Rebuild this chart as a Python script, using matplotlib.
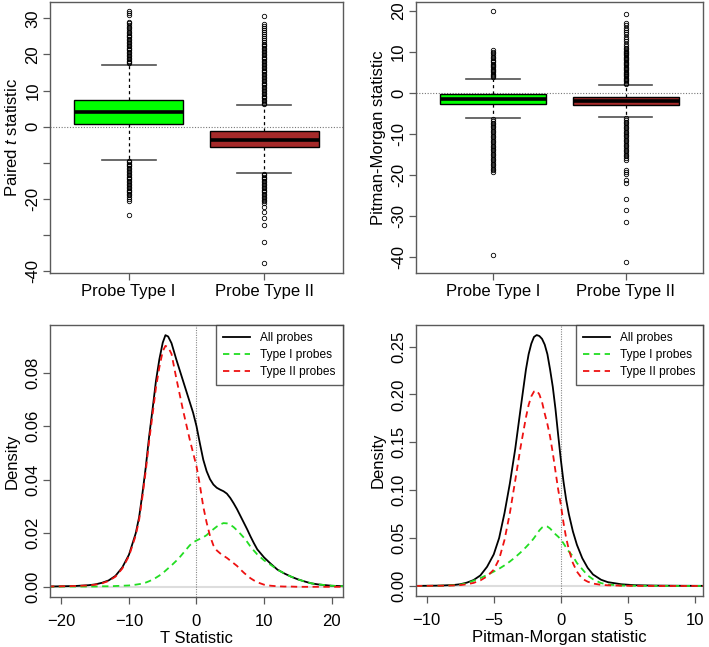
import matplotlib
matplotlib.use("Agg")
import matplotlib.pyplot as plt

plt.rcParams['font.family'] = ['Liberation Sans', 'DejaVu Sans']
plt.rcParams['mathtext.fontset'] = 'custom'
plt.rcParams['mathtext.rm'] = 'Liberation Sans'
plt.rcParams['mathtext.it'] = 'Liberation Sans:italic'

groups = ['Probe Type I', 'Probe Type II']
box_colors = ['#00ff00', '#a52a2a']

# --- paired t statistic boxplots (top left) ---
t_q1 = [0.75, -5.7]
t_med = [4.1, -3.7]
t_q3 = [7.4, -1.2]
t_whislo = [-9.1, -12.7]
t_whishi = [17.2, 5.9]
t_fliers_I = [17.5, 17.9, 18.3, 18.7, 19.1, 19.5, 19.9, 20.3, 20.7, 21.1, 21.5, 21.9,
              22.3, 22.7, 23.1, 23.5, 23.9, 24.3, 24.7, 25.1, 25.5, 25.9, 26.3, 26.7,
              27.2, 27.6, 28.1, 28.6, 29.1, 30.9, 31.4, 31.9,
              -9.4, -9.8, -10.2, -10.6, -11.0, -11.4, -11.8, -12.2, -12.6, -13.0,
              -13.4, -13.8, -14.2, -14.6, -15.0, -15.4, -15.8, -16.2, -16.6, -17.0,
              -17.4, -17.8, -18.2, -18.6, -19.0, -19.4, -20.1, -20.6, -24.5]
t_fliers_II = [6.2, 6.6, 7.0, 7.4, 7.8, 8.2, 8.6, 9.0, 9.4, 9.8, 10.2, 10.6, 11.0,
               11.4, 11.8, 12.2, 12.6, 13.0, 13.4, 13.8, 14.2, 14.6, 15.0, 15.4, 15.8,
               16.2, 16.6, 17.0, 17.4, 17.8, 18.2, 18.6, 19.0, 19.4, 19.8, 20.2, 20.6,
               21.0, 21.4, 21.8, 22.2, 22.6, 23.0, 23.5, 24.1, 24.6, 25.2, 25.7, 26.3,
               26.8, 27.3, 27.9, 28.5, 30.7,
               -13.0, -13.4, -13.8, -14.2, -14.6, -15.0, -15.4, -15.8, -16.2, -16.6,
               -17.0, -17.4, -17.8, -18.2, -18.6, -19.0, -19.4, -19.8, -20.2, -20.6,
               -21.0, -22.2, -23.5, -25.4, -27.2, -31.9, -37.6]

# --- Pitman-Morgan boxplots (top right) ---
pm_q1 = [-2.6, -3.0]
pm_med = [-1.4, -1.9]
pm_q3 = [-0.2, -1.05]
pm_whislo = [-6.1, -5.9]
pm_whishi = [3.5, 1.9]
pm_fliers_I = [3.8, 4.1, 4.4, 4.7, 5.0, 5.3, 5.6, 5.9, 6.2, 6.5, 6.8, 7.1, 7.4, 7.7,
               8.0, 8.4, 8.8, 9.2, 9.6, 10.0, 10.4, 19.9,
               -6.4, -6.8, -7.2, -7.6, -8.0, -8.4, -8.8, -9.2, -9.6, -10.0, -10.4,
               -10.8, -11.2, -11.6, -12.0, -12.4, -12.8, -13.2, -13.6, -14.0, -14.4,
               -14.8, -15.2, -15.6, -16.0, -16.4, -16.8, -17.2, -17.6, -18.0, -18.4,
               -18.8, -19.2, -39.5]
pm_fliers_II = [2.2, 2.5, 2.8, 3.1, 3.4, 3.7, 4.0, 4.3, 4.6, 4.9, 5.2, 5.5, 5.8, 6.1,
                6.4, 6.7, 7.0, 7.3, 7.6, 7.9, 8.2, 8.5, 8.8, 9.1, 9.4, 9.7, 10.0, 10.3,
                10.6, 11.0, 11.5, 12.0, 12.6, 13.1, 13.7, 14.2, 14.8, 15.3, 15.9, 16.4,
                17.0, 19.2,
                -6.2, -6.6, -7.0, -7.4, -7.8, -8.2, -8.6, -9.0, -9.4, -9.8, -10.2,
                -10.6, -11.0, -11.4, -11.8, -12.2, -12.6, -13.0, -13.4, -13.8, -14.2,
                -14.6, -15.0, -15.4, -15.8, -16.2, -18.7, -19.2, -19.7, -21.1, -21.9,
                -25.8, -28.4, -31.5, -41.1]

# --- density of T statistic (bottom left) ---
t_x = [-22, -20, -18, -16, -15, -14, -13, -12, -11, -10, -9, -8.5, -8, -7.5, -7, -6.5,
       -6, -5.5, -5, -4.6, -4.2, -3.7, -3, -2.5, -2, -1.5, -1, -0.5, 0, 0.5, 1, 1.5,
       2, 2.5, 3, 3.5, 4, 4.5, 5, 5.5, 6, 6.5, 7, 7.5, 8, 8.5, 9, 10, 11, 12, 13, 14,
       15, 16, 17, 18, 20, 22]
t_all = [0.0001, 0.0002, 0.0003, 0.0006, 0.0009, 0.0015, 0.0024, 0.0041, 0.0072,
         0.0120, 0.0200, 0.0260, 0.0350, 0.0450, 0.0565, 0.0665, 0.0770, 0.0850,
         0.0912, 0.0940, 0.0935, 0.0910, 0.0850, 0.0810, 0.0770, 0.0730, 0.0690,
         0.0650, 0.0600, 0.0536, 0.0475, 0.0432, 0.0402, 0.0382, 0.0370, 0.0363,
         0.0357, 0.0348, 0.0332, 0.0312, 0.0290, 0.0265, 0.0240, 0.0215, 0.0188,
         0.0163, 0.0140, 0.0110, 0.0086, 0.0064, 0.0050, 0.0038, 0.0028, 0.0020,
         0.0013, 0.0009, 0.0004, 0.0002]
t_type1 = [0.0, 0.0001, 0.0001, 0.0001, 0.0001, 0.0002, 0.0002, 0.0003, 0.0004,
           0.0005, 0.0008, 0.0010, 0.0012, 0.0016, 0.0021, 0.0027, 0.0034, 0.0042,
           0.0051, 0.0060, 0.0069, 0.0080, 0.0097, 0.0110, 0.0125, 0.0140, 0.0155,
           0.0166, 0.0173, 0.0179, 0.0185, 0.0193, 0.0205, 0.0215, 0.0225, 0.0233,
           0.0238, 0.0237, 0.0232, 0.0223, 0.0211, 0.0198, 0.0184, 0.0168, 0.0150,
           0.0135, 0.0121, 0.0099, 0.0082, 0.0064, 0.0050, 0.0038, 0.0028, 0.0020,
           0.0013, 0.0009, 0.0004, 0.0002]
t_type2 = [0.0001, 0.0002, 0.0003, 0.0005, 0.0008, 0.0013, 0.0022, 0.0038, 0.0068,
           0.0115, 0.0192, 0.0250, 0.0338, 0.0436, 0.0548, 0.0645, 0.0745, 0.0820,
           0.0880, 0.0900, 0.0895, 0.0870, 0.0780, 0.0720, 0.0660, 0.0605, 0.0550,
           0.0500, 0.0450, 0.0380, 0.0300, 0.0240, 0.0190, 0.0155, 0.0136, 0.0125,
           0.0116, 0.0108, 0.0098, 0.0088, 0.0078, 0.0065, 0.0053, 0.0042, 0.0032,
           0.0024, 0.0017, 0.0008, 0.0004, 0.0002, 0.0001, 0.0001, 0.0, 0.0, 0.0,
           0.0, 0.0, 0.0]

# --- density of Pitman-Morgan statistic (bottom right) ---
pm_x = [-10.8, -10, -9, -8, -7.5, -7, -6.5, -6, -5.5, -5, -4.6, -4.2, -3.8, -3.4, -3,
        -2.6, -2.4, -2.2, -2.0, -1.8, -1.6, -1.4, -1.2, -1.0, -0.8, -0.6, -0.4, -0.2,
        0, 0.2, 0.4, 0.6, 0.9, 1.2, 1.6, 2.0, 2.4, 3.0, 3.5, 4.5, 5.5, 7, 9, 10.8]
pm_all = [0.0001, 0.0002, 0.0004, 0.0010, 0.0018, 0.0035, 0.0062, 0.0110, 0.0200,
          0.0330, 0.0500, 0.0760, 0.1070, 0.1430, 0.1850, 0.2260, 0.2420, 0.2530,
          0.2600, 0.2620, 0.2610, 0.2580, 0.2520, 0.2420, 0.2260, 0.2080, 0.1850,
          0.1580, 0.1320, 0.1090, 0.0900, 0.0750, 0.0570, 0.0430, 0.0290, 0.0190,
          0.0120, 0.0065, 0.0040, 0.0018, 0.0008, 0.0004, 0.0002, 0.0001]
pm_type1 = [0.0, 0.0001, 0.0002, 0.0007, 0.0013, 0.0030, 0.0055, 0.0082, 0.0115,
            0.0150, 0.0180, 0.0215, 0.0255, 0.0300, 0.0350, 0.0405, 0.0435, 0.0465,
            0.0500, 0.0540, 0.0580, 0.0610, 0.0625, 0.0620, 0.0600, 0.0570, 0.0540,
            0.0515, 0.0486, 0.0445, 0.0400, 0.0360, 0.0310, 0.0240, 0.0175, 0.0110,
            0.0070, 0.0030, 0.0015, 0.0005, 0.0002, 0.0001, 0.0, 0.0]
pm_type2 = [0.0, 0.0001, 0.0002, 0.0005, 0.0009, 0.0018, 0.0032, 0.0058, 0.0100,
            0.0170, 0.0280, 0.0480, 0.0760, 0.1100, 0.1450, 0.1760, 0.1890, 0.1980,
            0.2030, 0.2040, 0.2000, 0.1920, 0.1800, 0.1690, 0.1560, 0.1390, 0.1200,
            0.1010, 0.0850, 0.0660, 0.0500, 0.0380, 0.0240, 0.0150, 0.0075, 0.0045,
            0.0025, 0.0012, 0.0007, 0.0003, 0.0001, 0.0, 0.0, 0.0]

legend_labels = ['All probes', 'Type I probes', 'Type II probes']
line_colors = ['black', '#22dd22', '#ee1111']

FRAME = '#5a5a5a'


def style_axes(ax, xpad=3):
    for s in ax.spines.values():
        s.set_color(FRAME)
        s.set_linewidth(1.0)
    ax.tick_params(colors=FRAME, labelcolor='black', length=5, width=0.9,
                   labelsize=12)
    ax.tick_params(axis='y', labelrotation=90, pad=2)
    ax.tick_params(axis='x', pad=xpad)
    for lab in ax.get_yticklabels():
        lab.set_va('center')


def boxpanel(ax, q1, med, q3, lo, hi, fl1, fl2, ylim, yticks, ylabels, ylabel):
    stats = []
    for i, fl in enumerate([fl1, fl2]):
        stats.append(dict(q1=q1[i], med=med[i], q3=q3[i], whislo=lo[i], whishi=hi[i],
                          fliers=fl))
    ax.axhline(0, color='#777777', linestyle=(0, (1, 1.5)), linewidth=0.8, zorder=0)
    res = ax.bxp(stats, positions=[1, 2], widths=0.8, capwidths=0.4, patch_artist=True,
                 boxprops=dict(edgecolor='black', linewidth=1.0),
                 whiskerprops=dict(color='black', linestyle=(0, (2.5, 2.5)), linewidth=0.9),
                 capprops=dict(color='#505050', linewidth=1.2),
                 medianprops=dict(color='black', linewidth=2.6),
                 flierprops=dict(marker='o', markersize=3.2, markerfacecolor='none',
                                 markeredgecolor='black', markeredgewidth=0.6,
                                 linestyle='none'))
    for patch, c in zip(res['boxes'], box_colors):
        patch.set_facecolor(c)
    ax.set_xlim(0.42, 2.58)
    ax.set_ylim(*ylim)
    ax.set_xticks([1, 2])
    ax.set_xticklabels(groups)
    ax.set_yticks(yticks)
    ax.set_yticklabels(ylabels)
    ax.set_ylabel(ylabel, fontsize=12, labelpad=4)
    style_axes(ax)


def densitypanel(ax, x, all_y, t1_y, t2_y, xlim, ylim, xticks, yticks, ylabels, xlabel):
    ax.axhline(0, color='#dddddd', linewidth=1.5, zorder=0)
    ax.axvline(0, color='#888888', linestyle=(0, (1, 1.2)), linewidth=0.8, zorder=0)
    ax.plot(x, all_y, color=line_colors[0], linewidth=1.3, label=legend_labels[0])
    ax.plot(x, t1_y, color=line_colors[1], linewidth=1.3, linestyle=(0, (3.5, 2.5)),
            label=legend_labels[1])
    ax.plot(x, t2_y, color=line_colors[2], linewidth=1.3, linestyle=(0, (3.5, 2.5)),
            label=legend_labels[2])
    ax.set_xlim(*xlim)
    ax.set_ylim(*ylim)
    ax.set_xticks(xticks)
    ax.set_yticks(yticks)
    ax.set_yticklabels(ylabels)
    ax.set_xlabel(xlabel, fontsize=12, labelpad=2)
    ax.set_ylabel('Density', fontsize=12, labelpad=4)
    leg = ax.legend(loc='upper right', fontsize=8.6, frameon=True, fancybox=False,
                    borderaxespad=0, handlelength=2.2, handletextpad=0.9,
                    labelspacing=0.4, borderpad=0.6)
    leg.get_frame().set_edgecolor('#333333')
    leg.get_frame().set_linewidth(1.0)
    style_axes(ax, xpad=7)


fig = plt.figure(figsize=(7.09, 6.47), dpi=100)
ax_tl = fig.add_axes([0.0705, 0.578, 0.4133, 0.4189])
ax_tr = fig.add_axes([0.5867, 0.578, 0.4048, 0.4189])
ax_bl = fig.add_axes([0.0705, 0.0773, 0.4133, 0.4204])
ax_br = fig.add_axes([0.5867, 0.0788, 0.4048, 0.4189])

boxpanel(ax_tl, t_q1, t_med, t_q3, t_whislo, t_whishi, t_fliers_I, t_fliers_II,
         (-40.5, 34.5), [-40, -30, -20, -10, 0, 10, 20, 30],
         ['-40', '', '-20', '', '0', '10', '20', '30'], 'Paired $\\mathit{t}$ statistic')
boxpanel(ax_tr, pm_q1, pm_med, pm_q3, pm_whislo, pm_whishi, pm_fliers_I, pm_fliers_II,
         (-43.8, 22.1), [-40, -30, -20, -10, 0, 10, 20],
         ['-40', '-30', '-20', '-10', '0', '10', '20'], 'Pitman-Morgan statistic')

densitypanel(ax_bl, t_x, t_all, t_type1, t_type2, (-21.7, 21.7), (-0.0038, 0.0978),
             [-20, -10, 0, 10, 20], [0, 0.02, 0.04, 0.06, 0.08],
             ['0.00', '0.02', '0.04', '0.06', '0.08'], 'T Statistic')
densitypanel(ax_br, pm_x, pm_all, pm_type1, pm_type2, (-10.8, 10.6), (-0.0105, 0.2725),
             [-10, -5, 0, 5, 10], [0, 0.05, 0.10, 0.15, 0.20, 0.25],
             ['0.00', '0.05', '0.10', '0.15', '0.20', '0.25'], 'Pitman-Morgan statistic')

fig.savefig('out.png', dpi=100)
